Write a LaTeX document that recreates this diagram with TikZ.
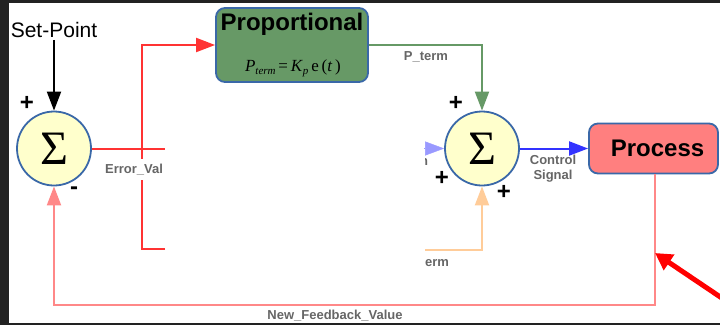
\documentclass[tikz,border=0pt]{standalone}
\usepackage{fontspec}
\setmainfont{Liberation Sans}
\setmathrm{Liberation Serif}
\newfontfamily\sigmafont{Liberation Serif}
\newfontfamily\eqfont{Liberation Serif}
\usetikzlibrary{arrows.meta}
\definecolor{framedark}{HTML}{222222}
\definecolor{edgeblue}{HTML}{3A68A8}
\definecolor{sumfill}{HTML}{FFFFCC}
\definecolor{propgreen}{HTML}{679966}
\definecolor{procred}{HTML}{FF7F7F}
\definecolor{labelgray}{HTML}{666666}
\definecolor{errred}{HTML}{FF3333}
\definecolor{fbpink}{HTML}{FF8888}
\definecolor{pgreen}{HTML}{669966}
\definecolor{cblue}{HTML}{3333FF}
\definecolor{lightblue}{HTML}{9999FF}
\definecolor{dorange}{HTML}{FFCC99}
\definecolor{pointred}{HTML}{FF0000}
\begin{document}
\begin{tikzpicture}[x=1pt,y=-1pt,
  sumnode/.style={circle, draw=edgeblue, fill=sumfill, line width=1.8pt,
    minimum size=74pt, inner sep=0pt, font=\sigmafont\fontsize{48}{48}\selectfont},
  blockbox/.style={draw=edgeblue, line width=1.8pt, rounded corners=9pt, inner sep=0pt},
  lbl/.style={text=labelgray, font=\bfseries\fontsize{13}{15}\selectfont, inner sep=1pt},
  sign/.style={font=\bfseries\fontsize{24}{24}\selectfont, inner sep=0pt},
  tip/.style={-{Triangle[length=19pt,width=14pt]}},
  wire/.style={line width=2pt}
]
\useasboundingbox (0,0) rectangle (720,325);
\clip (0,0) rectangle (720,325);
% screen frame and canvas
\fill[framedark] (0,0) rectangle (720,325);
\fill[white] (9,3) rectangle (720,323);

% summing junctions
\node[sumnode] (s1) at (54,148.5) {Σ};
\node[sumnode] (s2) at (482,148.5) {Σ};

% blocks
\node[blockbox, fill=propgreen, minimum width=152pt, minimum height=74pt] (prop) at (292,45) {};
\node[font=\bfseries\fontsize{24}{24}\selectfont, inner sep=0pt] (proptitle) at (292,24) {Proportional};
\node[font=\eqfont\fontsize{17}{18}\selectfont, inner sep=0pt] (propeq) at (293,68)
  {\textit{P}\raisebox{-0.35ex}{\fontsize{11}{11}\selectfont\textit{term}}\,=\,\textit{K}\raisebox{-0.35ex}{\fontsize{11}{11}\selectfont\textit{p}}\,e\,(\textit{t}\,)};
\node[blockbox, fill=procred, minimum width=129pt, minimum height=50pt] (proc) at (653.5,148.5) {};
\node[font=\bfseries\fontsize{24}{24}\selectfont, inner sep=0pt] (proctitle) at (657.5,148.5) {Process};

% set-point input
\node[font=\fontsize{21}{21}\selectfont, inner sep=2pt] (sp) at (54,30) {Set-Point};
\draw[wire, black, tip] (sp) -- (s1);

% error signal distribution
\coordinate (ecut) at (165,148.5);
\coordinate (bcut) at (165,249);
\coordinate (jbot) at (142,249);
\draw[wire, errred] (s1) -- (ecut);
\draw[wire, errred, tip] (bcut) -- (jbot) |- (prop.west);
\node[lbl, fill=white, inner ysep=5pt, inner xsep=0pt] (errlbl) at (134,169.5) {Error\_Val};

% proportional term into the second junction
\draw[wire, pgreen, tip] (prop.east) -| (s2);
\node[lbl] (ptermlbl) at (426,57) {P\_term};

% remaining inputs of the second junction
\coordinate (lbcut) at (424,148.5);
\draw[lightblue, tip] (lbcut) -- (s2.west);
\begin{scope}
  \clip (425,140) rectangle (440,175);
  \node[lbl] (nfrag) at (424,162) {n};
\end{scope}
\coordinate (ocut) at (425,249.5);
\draw[wire, dorange, tip] (ocut) -| (s2.south);
\node[lbl, anchor=west, inner sep=0pt] (ermlbl) at (425,263) {erm};

% control signal
\draw[wire, cblue, tip] (s2.east) -- (s2.east -| proc.west);
\node[lbl, align=center, font=\bfseries\fontsize{13}{15}\selectfont] (ctl) at (553,169) {Control\\Signal};

% feedback path
\coordinate (fbturn) at (655,305);
\draw[wire, fbpink, tip] (proc.south -| fbturn) -- (fbturn) -| (s1.south);
\node[lbl] (fblbl) at (335,316) {New\_Feedback\_Value};

% signs
\node[sign] (p1) at (27,103) {+};
\node[sign] (m1) at (74,191) {-};
\node[sign] (p2) at (456,103) {+};
\node[sign] (p3) at (442,178) {+};
\node[sign] (p4) at (504,192) {+};

% pointer
\coordinate (ptip) at (655,253);
\coordinate (pfar) at (750,317);
\draw[line width=5pt, pointred, -{Triangle[length=17pt,width=18pt]}] (pfar) -- (ptip);
\end{tikzpicture}
\end{document}
